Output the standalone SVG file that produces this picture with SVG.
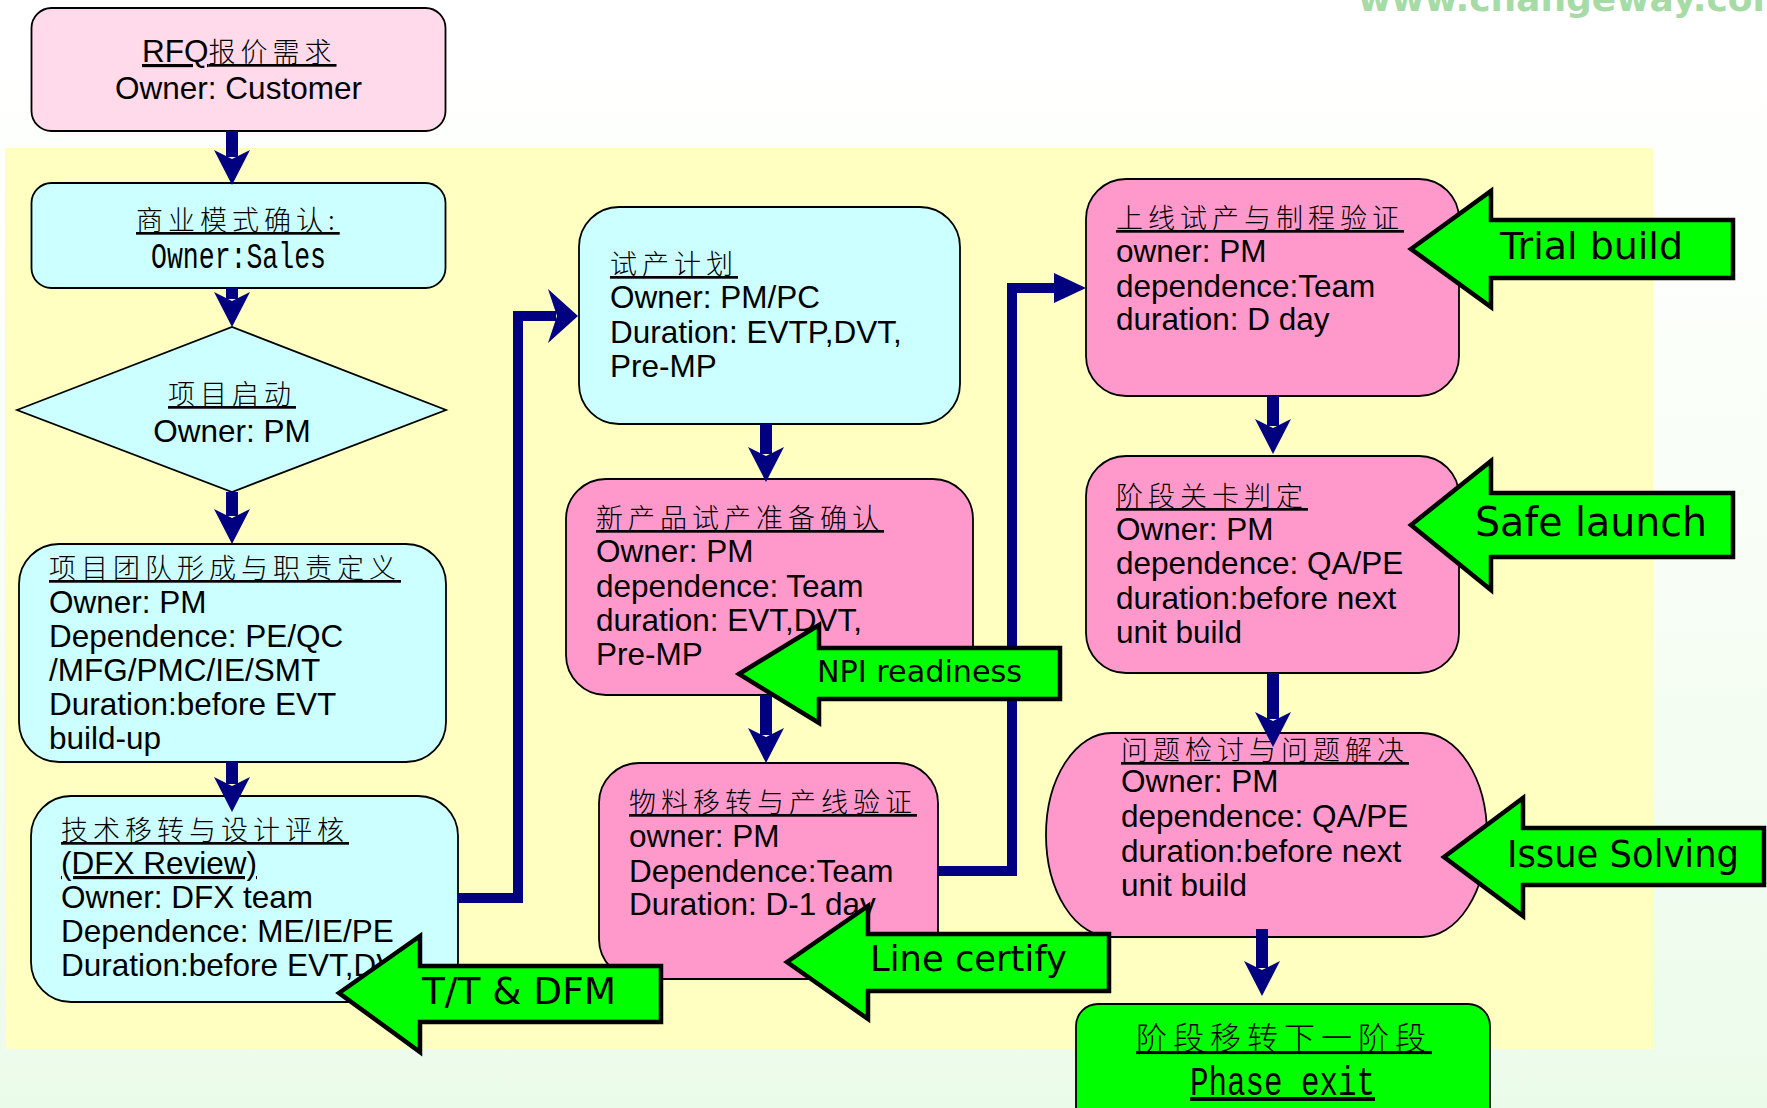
<svg xmlns="http://www.w3.org/2000/svg" width="1767" height="1108" viewBox="0 0 1767 1108">
<defs>
<linearGradient id="bg" x1="0" y1="0" x2="0" y2="1">
<stop offset="0" stop-color="#FFFFFF"/>
<stop offset="0.5" stop-color="#F8FEF6"/>
<stop offset="1" stop-color="#EBFBEA"/>
</linearGradient>
<marker id="ahV" viewBox="-40 -20 44 40" refX="-28" refY="0" markerWidth="44" markerHeight="40" markerUnits="userSpaceOnUse" orient="auto">
<path d="M0,0 L-35,-18 L-26,0 L-35,18 Z" fill="#000080" stroke="none"/>
</marker>
<marker id="ahH1" viewBox="-34 -30 38 60" refX="-22" refY="0" markerWidth="38" markerHeight="60" markerUnits="userSpaceOnUse" orient="auto">
<path d="M0,0 L-30,-27 L-21,0 L-30,27 Z" fill="#000080" stroke="none"/>
</marker>
<marker id="ahH2" viewBox="-36 -18 40 36" refX="-31" refY="0" markerWidth="40" markerHeight="36" markerUnits="userSpaceOnUse" orient="auto">
<path d="M0,0 L-32,-15 L-32,15 Z" fill="#000080" stroke="none"/>
</marker>
<style>
.lat{font-family:"Liberation Sans",Arial,sans-serif;font-size:31.5px;fill:#000}
.cjk{font-family:"Noto Sans CJK SC","Noto Sans CJK JP",sans-serif;font-size:27px;letter-spacing:5px;font-weight:300;fill:#000}
.mono{font-family:"Liberation Mono","Courier New",monospace;fill:#000}
.u{text-decoration:underline}
.box{stroke:#000;stroke-width:1.8}
.cyan{fill:#CCFFFF}
.pink{fill:#FF99CC}
.lpink{fill:#FFDAEA}
.green{fill:#00FF00}
.conn{stroke:#000080;fill:none;stroke-linejoin:miter}
.garrow{fill:#00FF00;stroke:#000;stroke-width:4.5;stroke-linejoin:miter}
.glabel{font-family:"DejaVu Sans",Verdana,sans-serif;fill:#000}
</style>
</defs>

<rect x="0" y="0" width="1767" height="1108" fill="url(#bg)"/>
<text x="1358" y="11" font-family="DejaVu Sans,sans-serif" font-weight="bold" font-size="36" fill="#A6DBA6">www.changeway.com</text>
<rect x="5" y="148" width="1648" height="901" fill="#FFFFC1"/>

<g id="n-rfq">
<rect x="31.5" y="8" width="414" height="123" rx="20" class="box lpink"/>
<text x="142" y="62" class="u"><tspan class="lat">RFQ</tspan><tspan class="cjk">报价需求</tspan></text>
<text x="238.5" y="99" class="lat" text-anchor="middle">Owner: Customer</text>
</g>

<g id="n-business">
<rect x="31.5" y="183" width="414" height="105" rx="20" class="box cyan"/>
<text x="136" y="230" class="cjk u">商业模式确认:</text>
<text x="151" y="268" class="mono" font-size="36" textLength="175" lengthAdjust="spacingAndGlyphs">Owner:Sales</text>
</g>

<g id="n-kickoff">
<polygon points="17,410 232,327 446,410 232,492" class="box cyan"/>
<text x="168" y="404" class="cjk u">项目启动</text>
<text x="232" y="442" class="lat" text-anchor="middle">Owner: PM</text>
</g>

<g id="n-team">
<rect x="19" y="544" width="427" height="218" rx="40" class="box cyan"/>
<text x="49" y="578" class="cjk u">项目团队形成与职责定义</text>
<text class="lat"><tspan x="49" y="613">Owner: PM</tspan><tspan x="49" y="647">Dependence: PE/QC</tspan><tspan x="49" y="681">/MFG/PMC/IE/SMT</tspan><tspan x="49" y="715">Duration:before EVT</tspan><tspan x="49" y="749">build-up</tspan></text>
</g>

<g id="n-dfx">
<rect x="31" y="796" width="427" height="206" rx="40" class="box cyan"/>
<text x="61" y="840" class="cjk u">技术移转与设计评核</text>
<text x="61" y="874" class="lat u">(DFX Review)</text>
<text class="lat"><tspan x="61" y="908">Owner: DFX team</tspan><tspan x="61" y="942">Dependence: ME/IE/PE</tspan><tspan x="61" y="976">Duration:before EVT,DVT</tspan></text>
</g>

<g id="n-plan">
<rect x="579" y="207" width="381" height="217" rx="40" class="box cyan"/>
<text x="610" y="274" class="cjk u">试产计划</text>
<text class="lat"><tspan x="610" y="308">Owner: PM/PC</tspan><tspan x="610" y="343">Duration: EVTP,DVT,</tspan><tspan x="610" y="377">Pre-MP</tspan></text>
</g>

<g id="n-ready">
<rect x="566" y="479" width="407" height="216" rx="40" class="box pink"/>
<text x="596" y="528" class="cjk u">新产品试产准备确认</text>
<text class="lat"><tspan x="596" y="562">Owner: PM</tspan><tspan x="596" y="597">dependence: Team</tspan><tspan x="596" y="631">duration: EVT,DVT,</tspan><tspan x="596" y="665">Pre-MP</tspan></text>
</g>

<g id="n-linever">
<rect x="599" y="763" width="339" height="216" rx="40" class="box pink"/>
<text x="629" y="812" class="cjk u">物料移转与产线验证</text>
<text class="lat"><tspan x="629" y="847">owner: PM</tspan><tspan x="629" y="882">Dependence:Team</tspan><tspan x="629" y="915">Duration: D-1 day</tspan></text>
</g>

<g id="n-trial">
<rect x="1086" y="179" width="373" height="217" rx="40" class="box pink"/>
<text x="1116" y="228" class="cjk u">上线试产与制程验证</text>
<text class="lat"><tspan x="1116" y="262">owner: PM</tspan><tspan x="1116" y="297">dependence:Team</tspan><tspan x="1116" y="330">duration: D day</tspan></text>
</g>

<g id="n-gate">
<rect x="1086" y="456" width="373" height="217" rx="40" class="box pink"/>
<text x="1116" y="506" class="cjk u">阶段关卡判定</text>
<text class="lat"><tspan x="1116" y="540">Owner: PM</tspan><tspan x="1116" y="574">dependence: QA/PE</tspan><tspan x="1116" y="609">duration:before next</tspan><tspan x="1116" y="643">unit build</tspan></text>
</g>

<g id="n-issue">
<rect x="1046" y="733" width="441" height="204" rx="65" ry="102" class="box pink"/>
<text x="1121" y="760" class="cjk u">问题检讨与问题解决</text>
<text class="lat"><tspan x="1121" y="792">Owner: PM</tspan><tspan x="1121" y="827">dependence: QA/PE</tspan><tspan x="1121" y="862">duration:before next</tspan><tspan x="1121" y="896">unit build</tspan></text>
</g>

<g id="n-exit">
<rect x="1076" y="1004" width="414" height="130" rx="22" class="box green"/>
<text x="1136" y="1049" class="cjk u" style="font-size:31px;letter-spacing:6px">阶段移转下一阶段</text>
<text x="1190" y="1095" class="mono u" font-size="40" textLength="185" lengthAdjust="spacingAndGlyphs">Phase exit</text>
</g>

<g id="connectors" class="conn">
<line x1="232" y1="131" x2="232" y2="157" stroke-width="12" marker-end="url(#ahV)"/>
<line x1="232" y1="288" x2="232" y2="299" stroke-width="12" marker-end="url(#ahV)"/>
<line x1="232" y1="492" x2="232" y2="516" stroke-width="12" marker-end="url(#ahV)"/>
<line x1="232" y1="762" x2="232" y2="784" stroke-width="12" marker-end="url(#ahV)"/>
<line x1="766" y1="424" x2="766" y2="454" stroke-width="12" marker-end="url(#ahV)"/>
<line x1="766" y1="695" x2="766" y2="735" stroke-width="12" marker-end="url(#ahV)"/>
<line x1="1273" y1="396" x2="1273" y2="426" stroke-width="12" marker-end="url(#ahV)"/>
<line x1="1273" y1="673" x2="1273" y2="719" stroke-width="12" marker-end="url(#ahV)"/>
<line x1="1262" y1="929" x2="1262" y2="968" stroke-width="12" marker-end="url(#ahV)"/>
<polyline points="458,898 518,898 518,316 556,316" stroke-width="10" marker-end="url(#ahH1)"/>
<polyline points="938,871 1012,871 1012,288 1055,288" stroke-width="10" marker-end="url(#ahH2)"/>
</g>

<g id="c-trial-build">
<polygon points="1411,249 1491,191 1491,220 1733,220 1733,278 1491,278 1491,307" class="garrow"/>
<text x="1500" y="259" class="glabel" font-size="38" textLength="183" lengthAdjust="spacingAndGlyphs">Trial build</text>
</g>
<g id="c-safe-launch">
<polygon points="1411,525 1491,461 1491,493 1733,493 1733,557 1491,557 1491,590" class="garrow"/>
<text x="1475" y="536" class="glabel" font-size="41" textLength="232" lengthAdjust="spacingAndGlyphs">Safe launch</text>
</g>
<g id="c-issue-solving">
<polygon points="1444,857 1523,798 1523,828 1764,828 1764,885 1523,885 1523,916" class="garrow"/>
<text x="1507" y="867" class="glabel" font-size="37" textLength="232" lengthAdjust="spacingAndGlyphs">Issue Solving</text>
</g>
<g id="c-npi">
<polygon points="739,674 819,625 819,648 1060,648 1060,699 819,699 819,723" class="garrow"/>
<text x="817" y="682" class="glabel" font-size="30" textLength="205" lengthAdjust="spacingAndGlyphs">NPI readiness</text>
</g>
<g id="c-line-certify">
<polygon points="787,962 868,906 868,934 1109,934 1109,991 868,991 868,1019" class="garrow"/>
<text x="870" y="971" class="glabel" font-size="35" textLength="197" lengthAdjust="spacingAndGlyphs">Line certify</text>
</g>
<g id="c-tt-dfm">
<polygon points="339,993 420,936 420,966 661,966 661,1022 420,1022 420,1052" class="garrow"/>
<text x="422" y="1004" class="glabel" font-size="37" textLength="194" lengthAdjust="spacingAndGlyphs">T/T &amp; DFM</text>
</g>
</svg>
